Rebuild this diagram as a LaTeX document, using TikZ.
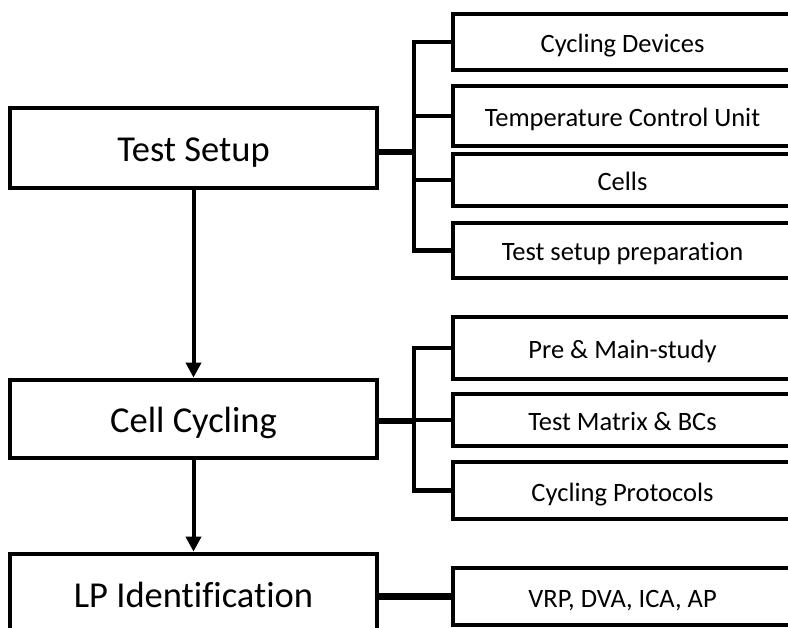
\documentclass[tikz,border=0pt]{standalone}
\usepackage{fontspec}
\setmainfont[Ligatures=NoCommon]{Carlito}
\usetikzlibrary{arrows.meta}
\begin{document}
\begin{tikzpicture}[x=1pt,y=-1pt,
  mainbox/.style={draw=black, line width=4.8pt, fill=white, rectangle, inner sep=0pt,
    minimum width=367pt, text height=27.5pt, text depth=0pt, font=\fontsize{36.5}{40}\selectfont},
  subbox/.style={draw=black, line width=4.8pt, fill=white, rectangle, inner sep=0pt,
    minimum width=339pt, text height=21pt, text depth=0pt, font=\fontsize{26.5}{30}\selectfont},
  branch/.style={draw=black, line width=4.5pt},
  trunk/.style={draw=black, line width=6.5pt},
  flow/.style={draw=black, line width=4pt, -{Triangle[width=15pt,length=15pt]}}
]
\useasboundingbox (0,0) rectangle (788,628);
\begin{scope}
\clip (0,0) rectangle (788,628);
% main boxes
\node[mainbox, minimum height=80pt] (ts) at (193.5,148) {Test Setup};
\node[mainbox, minimum height=78pt] (cc) at (193.5,419) {Cell Cycling};
\node[mainbox, minimum height=80pt] (lp) at (193.5,594) {LP Identification};
% sub boxes
\node[subbox, minimum height=56pt] (cd) at (622.5,42) {Cycling Devices};
\node[subbox, minimum height=60pt] (tcu) at (622.5,116) {Temperature Control Unit};
\node[subbox, minimum height=52pt] (cel) at (622.5,180) {Cells};
\node[subbox, minimum height=55pt] (tsp) at (622.5,250.5) {Test setup preparation};
\node[subbox, minimum height=62pt] (pms) at (622.5,348) {Pre \& Main-study};
\node[subbox, minimum height=52pt] (tm) at (622.5,420) {Test Matrix \& BCs};
\node[subbox, minimum height=57pt] (cp) at (622.5,490.5) {Cycling Protocols};
\node[subbox, minimum height=57pt] (vrp) at (622.5,596.5) {VRP, DVA, ICA, AP};
% brackets
\coordinate (b1) at (414,152);
\coordinate (b2) at (414,421);
\draw[branch] (cd.west) -- (414,42) |- (tsp.west);
\draw[branch] (tcu.west) -- (414,116);
\draw[branch] (cel.west) -- (414,180);
\draw[trunk] (ts.east |- b1) -- (b1);
\draw[branch] (pms.west) -- (414,348) |- (cp.west);
\draw[branch] (tm.west) -- (414,420);
\draw[trunk] (cc.east |- b2) -- (b2);
\draw[trunk] (lp.east |- vrp.west) -- (vrp.west);
% flow arrows
\draw[flow] (ts.south) -- (cc.north);
\draw[flow] (cc.south) -- (lp.north);
\end{scope}
\end{tikzpicture}
\end{document}
